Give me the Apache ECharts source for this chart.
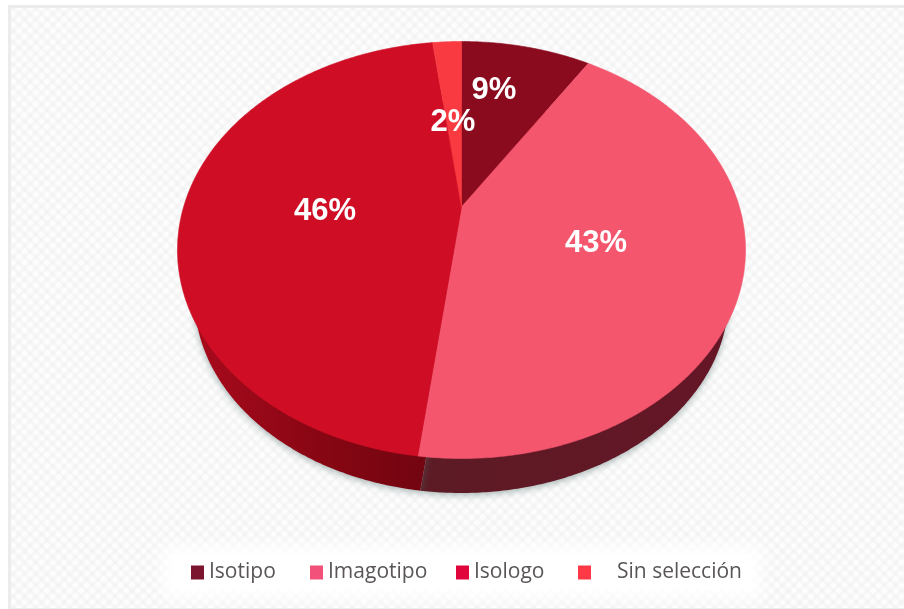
<!DOCTYPE html>
<html>
<head>
<meta charset="utf-8">
<style>
html,body{margin:0;padding:0;width:904px;height:609px;overflow:hidden;background:#fff}
#frame{position:absolute;left:8px;top:5px;width:1000px;height:600px;border:3px solid #ececec;box-sizing:content-box;
background-color:#fdfdfd;
background-image:repeating-linear-gradient(45deg,rgba(232,232,232,.28) 0 3px,rgba(255,255,255,0) 4px 8px),repeating-linear-gradient(-45deg,rgba(232,232,232,.28) 0 3px,rgba(255,255,255,0) 4px 8px);}
#panel{position:absolute;left:172px;top:555px;width:580px;height:34px;background:#fff;box-shadow:0 0 14px 10px rgba(255,255,255,.9)}
#chart{position:absolute;left:0;top:0;width:904px;height:609px}
</style>
<script src="https://cdn.jsdelivr.net/npm/echarts@6/dist/echarts.min.js"></script>
</head>
<body>
<div id="frame"></div>
<div id="panel"></div>
<div id="chart"></div>
<script>
// ---- data ----
const categories = ['Isotipo', 'Imagotipo', 'Isologo', 'Sin selección'];
const values = [9, 43, 46, 2];

// ---- styles ----
const faceColors = ['#8a0a1e', '#f3566d', '#cf0e25', '#f93a40'];
const legendColors = ['#7b1530', '#f2527a', '#e0063c', '#ff3a46'];
const wallColors = [
  '#6b0510',
  {type:'linear',x:0,y:0,x2:1,y2:0,colorStops:[{offset:0,color:'#5c1b25'},{offset:1,color:'#651626'}]},
  {type:'linear',x:0,y:0,x2:1,y2:0,colorStops:[{offset:0,color:'#a80a1c'},{offset:0.5,color:'#860613'},{offset:1,color:'#6a0510'}]},
  '#6b0510'
];

// ---- layout: tilted disc, seen in perspective ----
const topFace = {cx:461.5, cy:250, rx:284, ry:208.5};
const bottomFace = {cx:461.5, cy:297.5, rx:267, ry:195.5};
const hubShift = 0.207;           // how far the hub sits above the ellipse centre
const labelCentres = [[494,90],[596,243],[325,211],[453,122]];
const legendLefts = [191, 310, 456, 578];
const legendTextGap = [0, 0, 0, 21];

const total = values.reduce((a, b) => a + b, 0);
function project(face, fraction, radius) {
  const t = fraction * 2 * Math.PI;
  const x = radius * Math.sin(t), y = radius * Math.cos(t);
  const d = 1 + hubShift * y;
  const px = x * Math.sqrt(1 - hubShift * hubShift) / d;
  const py = (y + hubShift) / d;
  return [face.cx + px * face.rx, face.cy - py * face.ry];
}
function wedge(face, index) {
  let before = 0;
  for (let i = 0; i < index; i++) before += values[i];
  const a = before / total, b = (before + values[index]) / total;
  const pts = [project(face, a, 0)];
  const steps = Math.max(4, Math.ceil((b - a) * 720));
  for (let i = 0; i <= steps; i++) pts.push(project(face, a + (b - a) * i / steps, 1));
  return pts;
}

const wallSeries = {
  type: 'custom', name: 'wall', coordinateSystem: 'none', silent: true,
  data: values.map(v => [v]),
  renderItem(params) {
    const i = params.dataIndex;
    return {
      type: 'polygon',
      shape: {points: wedge(bottomFace, i)},
      style: {fill: wallColors[i], shadowBlur: 7, shadowColor: 'rgba(80,105,105,0.5)', shadowOffsetY: 2}
    };
  }
};

const faceSeries = categories.map((name, k) => ({
  type: 'custom', name, coordinateSystem: 'none', silent: true,
  itemStyle: {color: faceColors[k]},
  data: [[values[k]]],
  renderItem(params, api) {
    return {
      type: 'group',
      children: [
        {type: 'polygon', shape: {points: wedge(topFace, k)},
         style: {fill: faceColors[k], stroke: faceColors[k], lineWidth: 0.6}},
        {type: 'text', z2: 10, x: labelCentres[k][0], y: labelCentres[k][1],
         style: {text: api.value(0) + '%', fill: '#fff', align: 'center', verticalAlign: 'middle',
                 font: 'bold 31px "Liberation Sans", Arial, sans-serif'}}
      ]
    };
  }
}));

const chart = echarts.init(document.getElementById('chart'), null, {renderer: 'canvas'});
chart.setOption({
  backgroundColor: 'transparent',
  animation: false,
  tooltip: {show: false},
  legend: categories.map((name, k) => ({
    left: legendLefts[k], top: 562, padding: 0,
    icon: 'rect', itemWidth: 13, itemHeight: 14, itemGap: 0, selectedMode: false,
    data: [{name, itemStyle: {color: legendColors[k]}}],
    textStyle: {color: '#5a5558', fontSize: 21, fontFamily: '"Open Sans", sans-serif',
                padding: [0, 0, 0, legendTextGap[k]]}
  })),
  series: [wallSeries].concat(faceSeries)
});
</script>
</body>
</html>
